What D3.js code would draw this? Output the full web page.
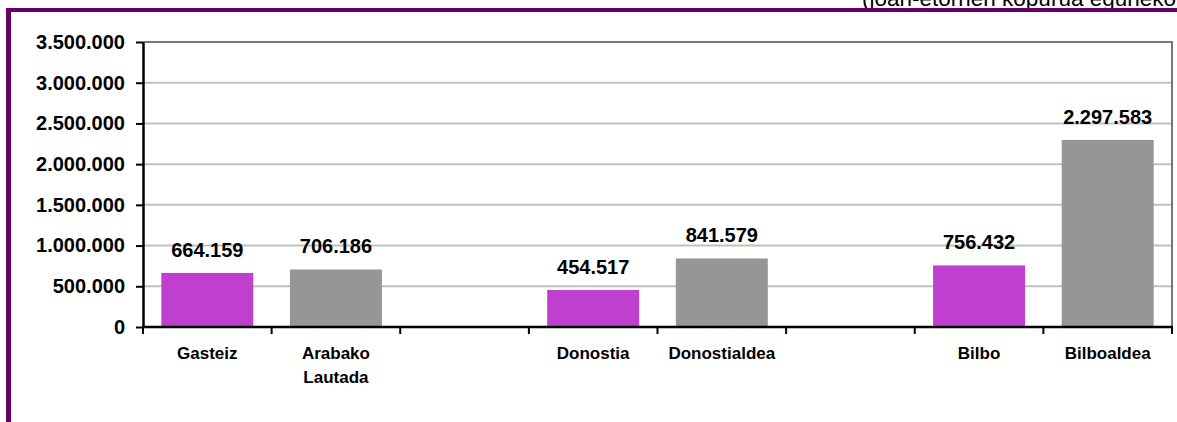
<!DOCTYPE html>
<html>
<head>
<meta charset="utf-8">
<script src="https://cdn.jsdelivr.net/npm/d3@7/dist/d3.min.js"></script>
<style>
  html, body { margin: 0; padding: 0; background: #fff; }
  svg { display: block; font-family: "Liberation Sans", Arial, sans-serif; }
</style>
</head>
<body>
<svg id="chart" width="1177" height="422"></svg>
<script>
// Daily average trips per area: city vs. surrounding district
const categories = ["Gasteiz", "Arabako\nLautada", "", "Donostia", "Donostialdea", "", "Bilbo", "Bilboaldea"];
const values     = [664159, 706186, null, 454517, 841579, null, 756432, 2297583];
const kinds      = ["hiria", "eskualdea", null, "hiria", "eskualdea", null, "hiria", "eskualdea"];
const yTicks     = [0, 500000, 1000000, 1500000, 2000000, 2500000, 3000000, 3500000];
const titleText  = "(joan-etorrien kopurua eguneko";

const colors = { hiria: "#bf40cf", eskualdea: "#969696" };

const W = 1177, H = 422;
const plot = { left: 143, right: 1172, top: 42, bottom: 327 };

const svg = d3.select("#chart");

const locale = d3.formatLocale({ decimal: ",", thousands: ".", grouping: [3], currency: ["", ""] });
const fmt = locale.format(",d");

const idx = categories.map((_, i) => i);

const xBand = d3.scaleBand().domain(idx).range([plot.left, plot.right]).padding(0);
const xBar = d3.scaleBand().domain(idx).range([plot.left, plot.right])
  .paddingInner(0.285).paddingOuter(0.1425);
const y = d3.scaleLinear().domain([0, 3500000]).range([plot.bottom, plot.top]);

// subtitle, running off the top edge
svg.append("text")
  .attr("x", 1176).attr("y", 6)
  .attr("text-anchor", "end")
  .attr("font-size", 22.5)
  .attr("fill", "#000")
  .text(titleText);

// purple frame (top and left)
svg.append("rect").attr("x", 6).attr("y", 8).attr("width", W - 6).attr("height", 4).attr("fill", "#660066");
svg.append("rect").attr("x", 6).attr("y", 8).attr("width", 5).attr("height", H - 8).attr("fill", "#660066");

// gridlines
svg.append("g")
  .selectAll("line")
  .data(yTicks.filter(d => d > 0 && d < 3500000))
  .join("line")
  .attr("x1", plot.left).attr("x2", plot.right)
  .attr("y1", d => y(d)).attr("y2", d => y(d))
  .attr("stroke", "#c0c0c0").attr("stroke-width", 2);

// plot border (top and right)
svg.append("path")
  .attr("d", `M${plot.left},${plot.top}H${plot.right}V${plot.bottom}`)
  .attr("fill", "none").attr("stroke", "#777").attr("stroke-width", 2);

// bars
svg.append("g")
  .selectAll("rect")
  .data(idx.filter(i => values[i] != null))
  .join("rect")
  .attr("x", i => xBar(i))
  .attr("width", xBar.bandwidth())
  .attr("y", i => y(values[i]))
  .attr("height", i => y(0) - y(values[i]))
  .attr("fill", i => colors[kinds[i]]);

// value labels
svg.append("g")
  .selectAll("text")
  .data(idx.filter(i => values[i] != null))
  .join("text")
  .attr("x", i => xBar(i) + xBar.bandwidth() / 2)
  .attr("y", i => y(values[i]) - 16)
  .attr("text-anchor", "middle")
  .attr("font-size", 20)
  .attr("font-weight", "bold")
  .text(i => fmt(values[i]));

// y axis
const yAxis = svg.append("g")
  .attr("transform", `translate(${plot.left},0)`)
  .call(d3.axisLeft(y).tickValues(yTicks).tickFormat(fmt).tickSize(7).tickPadding(11).tickSizeOuter(0));
yAxis.select(".domain").attr("stroke", "#000").attr("stroke-width", 2.5);
yAxis.selectAll(".tick line").attr("stroke", "#000").attr("stroke-width", 2);
yAxis.selectAll(".tick text")
  .attr("font-family", "'Liberation Sans', Arial, sans-serif")
  .attr("font-size", 20).attr("font-weight", "bold").attr("fill", "#000");

// x axis: tick marks at category boundaries
const xAxisG = svg.append("g");
xAxisG.append("line")
  .attr("x1", plot.left).attr("x2", plot.right + 1)
  .attr("y1", plot.bottom).attr("y2", plot.bottom)
  .attr("stroke", "#000").attr("stroke-width", 2.5);
xAxisG.selectAll("line.tk")
  .data(idx.concat([categories.length]))
  .join("line")
  .attr("class", "tk")
  .attr("x1", i => i < categories.length ? xBand(i) : plot.right)
  .attr("x2", i => i < categories.length ? xBand(i) : plot.right)
  .attr("y1", plot.bottom).attr("y2", plot.bottom + 7)
  .attr("stroke", "#000").attr("stroke-width", 2);

// category labels
const catText = svg.append("g")
  .selectAll("text")
  .data(idx.filter(i => categories[i] !== ""))
  .join("text")
  .attr("x", i => xBand(i) + xBand.bandwidth() / 2)
  .attr("y", 359)
  .attr("text-anchor", "middle")
  .attr("font-size", 17)
  .attr("font-weight", "bold");
catText.each(function (i) {
  const lines = categories[i].split("\n");
  d3.select(this).selectAll("tspan")
    .data(lines)
    .join("tspan")
    .attr("x", xBand(i) + xBand.bandwidth() / 2)
    .attr("dy", (d, k) => k === 0 ? 0 : 24)
    .text(d => d);
});
</script>
</body>
</html>
